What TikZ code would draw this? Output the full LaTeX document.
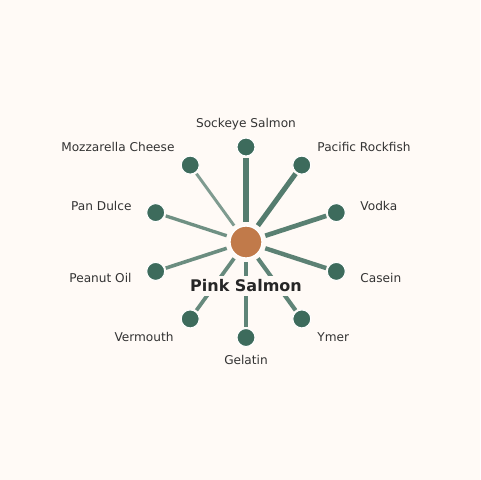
\documentclass[tikz,border=0pt]{standalone}
\usepackage{fontspec}
\setmainfont{DejaVu Sans}
\definecolor{pagebg}{HTML}{FFFAF6}
\definecolor{leafgreen}{HTML}{3D6B5C}
\definecolor{hubcopper}{HTML}{C17A4A}
\definecolor{inkgray}{HTML}{333333}
\tikzset{every picture/.style={line width=0.75pt}}
\tikzset{
  hub/.style={circle, fill=hubcopper, draw=white, line width=1pt, minimum size=24pt, inner sep=0pt, outer sep=3.2pt},
  leaf/.style={circle, fill=leafgreen, draw=white, line width=0.8pt, minimum size=13.5pt, inner sep=0pt, outer sep=1.2pt},
  spoke/.style={draw=leafgreen, line cap=butt},
  tag/.style={inner sep=0pt, text=inkgray, font=\fontsize{9.1}{11}\selectfont},
  hubtag/.style={inner sep=2.5pt, fill=pagebg, text=black!85, font=\fontsize{12}{14}\selectfont\bfseries}
}

\begin{document}
\begin{tikzpicture}[x=0.75pt,y=0.75pt,yscale=-1,xscale=1]
%set diagram to 480 x 480
\fill [pagebg] (0,0) rectangle (480,480);
\useasboundingbox (0,0) rectangle (480,480);

% Hub
\node [hub] (salmon) at (246,242) {};
% Leaves
\node [leaf] (sockeye) at (246,147) {};
\node [leaf] (rockfish) at (301.8,165.1) {};
\node [leaf] (vodka) at (336.3,212.6) {};
\node [leaf] (casein) at (336.3,271.4) {};
\node [leaf] (ymer) at (301.8,318.9) {};
\node [leaf] (gelatin) at (246,337.5) {};
\node [leaf] (vermouth) at (190.2,318.9) {};
\node [leaf] (peanut) at (155.7,271.4) {};
\node [leaf] (dulce) at (155.7,212.6) {};
\node [leaf] (mozzarella) at (190.2,165.1) {};

%Straight Lines
\draw [spoke, line width=3.9pt, draw opacity=0.88] (salmon) -- (sockeye);
\draw [spoke, line width=3.8pt, draw opacity=0.88] (salmon) -- (rockfish);
\draw [spoke, line width=3.5pt, draw opacity=0.85] (salmon) -- (vodka);
\draw [spoke, line width=3.3pt, draw opacity=0.84] (salmon) -- (casein);
\draw [spoke, line width=3.1pt, draw opacity=0.82] (salmon) -- (ymer);
\draw [spoke, line width=3.1pt, draw opacity=0.82] (salmon) -- (gelatin);
\draw [spoke, line width=2.8pt, draw opacity=0.78] (salmon) -- (vermouth);
\draw [spoke, line width=2.7pt, draw opacity=0.76] (salmon) -- (peanut);
\draw [spoke, line width=2.5pt, draw opacity=0.74] (salmon) -- (dulce);
\draw [spoke, line width=2.2pt, draw opacity=0.66] (salmon) -- (mozzarella);

% Text Node
\node [tag, anchor=center] (sockeyetag) at (246,124) {Sockeye Salmon};
% Text Node
\node [tag, anchor=west] (rockfishtag) at (317,147) {Pacific Rockfish};
% Text Node
\node [tag, anchor=west] (vodkatag) at (360,206) {Vodka};
% Text Node
\node [tag, anchor=west] (caseintag) at (360,278) {Casein};
% Text Node
\node [tag, anchor=west] (ymertag) at (317,337) {Ymer};
% Text Node
\node [tag, anchor=center] (gelatintag) at (246,360) {Gelatin};
% Text Node
\node [tag, anchor=east] (vermouthtag) at (174,337) {Vermouth};
% Text Node
\node [tag, anchor=east] (peanuttag) at (132,278) {Peanut Oil};
% Text Node
\node [tag, anchor=east] (dulcetag) at (132,206) {Pan Dulce};
% Text Node
\node [tag, anchor=east] (mozzarellatag) at (175,147) {Mozzarella Cheese};
% Text Node
\node [hubtag] (salmontag) at (246,286) {Pink Salmon};

\end{tikzpicture}
\end{document}
